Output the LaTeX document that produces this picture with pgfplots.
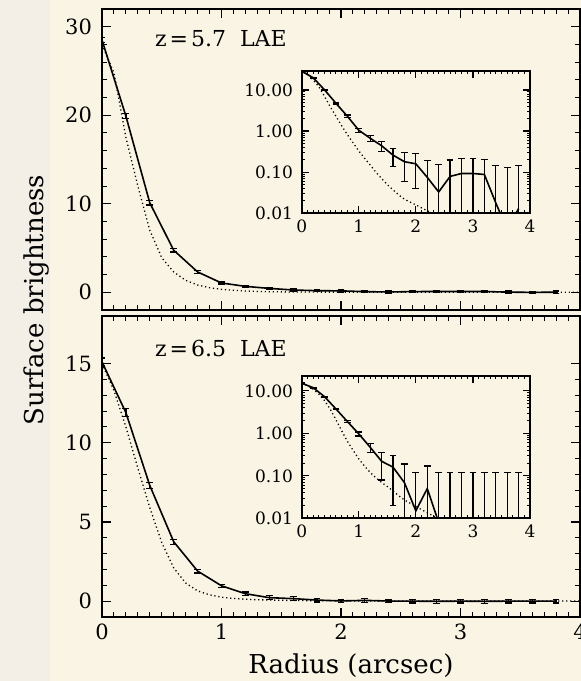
\documentclass[border=0pt]{standalone}
\usepackage{pgfplots}
\pgfplotsset{compat=1.18}
\usepackage{pgfplotstable}
\usepackage{fontspec}
\setmainfont{DejaVu Serif}
\definecolor{bg}{RGB}{249,244,227}
\definecolor{bgl}{RGB}{243,239,231}

% z=5.7 : observed profile (linear panel)
\pgfplotstableread{
x y e
0.0 28.5 0.30
0.2 19.9 0.30
0.4 10.1 0.25
0.6 4.75 0.20
0.8 2.30 0.15
1.0 1.05 0.12
1.2 0.67 0.12
1.4 0.44 0.12
1.6 0.26 0.12
1.8 0.18 0.12
2.0 0.16 0.12
2.2 0.075 0.12
2.4 0.033 0.12
2.6 0.079 0.12
2.8 0.093 0.12
3.0 0.093 0.12
3.2 0.088 0.12
3.4 0.018 0.13
3.6 -0.010 0.125
3.8 0.013 0.13
}\topmain
% z=5.7 : observed profile (log inset)
\pgfplotstableread{
x y ep em
0.0 28.5 0.30 0.30
0.2 19.9 0.30 0.30
0.4 10.1 0.25 0.25
0.6 4.75 0.20 0.20
0.8 2.30 0.15 0.15
1.0 1.05 0.12 0.12
1.2 0.67 0.12 0.12
1.4 0.44 0.12 0.12
1.6 0.26 0.12 0.12
1.8 0.18 0.12 0.12
2.0 0.16 0.12 0.12
2.2 0.075 0.12 0.072
2.4 0.033 0.12 0.030
2.6 0.079 0.12 0.076
2.8 0.093 0.12 0.090
3.0 0.093 0.12 0.090
3.2 0.088 0.12 0.085
3.4 0.018 0.13 0.015
3.6 0.004 0.125 0.001
3.8 0.013 0.13 0.010
}\topins
% z=5.7 : PSF model
\pgfplotstableread{
x y
0.0 28.0
0.1 24.8
0.2 17.5
0.3 12.0
0.4 7.0
0.5 3.9
0.6 2.3
0.7 1.35
0.8 0.82
0.9 0.52
1.0 0.33
1.1 0.22
1.2 0.15
1.3 0.10
1.4 0.07
1.5 0.05
1.6 0.037
1.7 0.028
1.8 0.022
2.0 0.016
2.2 0.0115
2.4 0.0088
2.6 0.0072
3.0 0.0055
3.5 0.0042
4.0 0.0035
}\toppsf

% z=6.5 : observed profile (linear panel)
\pgfplotstableread{
x y e
0.0 15.1 0.25
0.2 11.9 0.25
0.4 7.3 0.20
0.6 3.75 0.15
0.8 1.90 0.12
1.0 0.97 0.10
1.2 0.47 0.11
1.4 0.22 0.14
1.6 0.16 0.14
1.8 0.069 0.12
2.0 0.015 0.105
2.2 0.05 0.12
2.4 0.008 0.112
2.6 0.0 0.12
2.8 -0.01 0.12
3.0 0.0 0.12
3.2 -0.01 0.12
3.4 0.0 0.12
3.6 0.0 0.12
3.8 0.0 0.12
}\botmain
% z=6.5 : observed profile (log inset)
\pgfplotstableread{
x y ep em
0.0 15.1 0.25 0.25
0.2 11.9 0.25 0.25
0.4 7.3 0.20 0.20
0.6 3.75 0.15 0.15
0.8 1.90 0.12 0.12
1.0 0.97 0.10 0.10
1.2 0.47 0.11 0.11
1.4 0.22 0.14 0.14
1.6 0.16 0.14 0.14
1.8 0.069 0.12 0.066
2.0 0.015 0.105 0.012
2.2 0.05 0.12 0.047
2.4 0.008 0.112 0.005
2.6 0.003 0.117 0.002
2.8 0.003 0.117 0.002
3.0 0.003 0.117 0.002
3.2 0.003 0.117 0.002
3.4 0.003 0.117 0.002
3.6 0.003 0.117 0.002
3.8 0.003 0.117 0.002
}\botins
% z=6.5 : PSF model
\pgfplotstableread{
x y
0.0 15.0
0.1 13.3
0.2 11.0
0.3 8.4
0.4 5.9
0.5 3.7
0.6 2.1
0.7 1.15
0.8 0.65
0.9 0.40
1.0 0.25
1.1 0.17
1.2 0.12
1.3 0.09
1.4 0.07
1.5 0.056
1.6 0.044
1.7 0.034
1.8 0.027
2.0 0.019
2.2 0.0135
2.4 0.0097
2.6 0.0078
3.0 0.006
3.5 0.0045
4.0 0.0037
}\botpsf

\begin{document}
\begin{tikzpicture}
\useasboundingbox (0,0) rectangle (290.5pt,340.5pt);
\fill[bg] (0,0) rectangle (290.5pt,340.5pt);
\fill[bgl] (0,0) rectangle (25pt,340.5pt);

% ---------- top panel ----------
\begin{axis}[scale only axis, width=239pt, height=150.5pt,
    at={(51pt,185.5pt)}, anchor=south west,
    xmin=0, xmax=4, xtick={0,1,2,3,4}, minor x tick num=9, xticklabels={},
    ymin=-2, ymax=32, ytick={0,10,20,30}, minor y tick num=4,
    tick align=inside, major tick length=4.5pt, minor tick length=2.3pt,
    axis line style={line width=0.9pt},
    major tick style={line width=0.6pt, black},
    minor tick style={line width=0.5pt, black},
    ticklabel style={font=\fontsize{10.5}{12}\selectfont},
    yticklabel style={xshift=-1.5pt},
    /pgf/number format/assume math mode=true]
\addplot[black, line width=0.65pt, dash pattern=on 0.6pt off 1.4pt] table[x=x,y=y] {\toppsf};
\addplot[black, line width=0.8pt, error bars/y dir=both, error bars/y explicit,
    error bars/error bar style={line width=0.6pt},
    error bars/error mark options={rotate=90, line width=0.6pt, mark size=1.7pt}]
    table[x=x,y=y,y error=e] {\topmain};
\end{axis}
\begin{axis}[ymode=log, scale only axis, width=114.15pt, height=71pt,
    at={(150.85pt,233.85pt)}, anchor=south west,
    xmin=0, xmax=4, ymin=0.01, ymax=28.5,
    xtick={0,1,2,3,4}, minor x tick num=9,
    ytick={0.01,0.1,1,10}, yticklabels={0.01,0.10,1.00,10.00},
    tick align=inside, major tick length=3.5pt, minor tick length=1.6pt,
    axis line style={line width=0.9pt},
    major tick style={line width=0.6pt, black},
    minor tick style={line width=0.45pt, black},
    ticklabel style={font=\fontsize{8.5}{10}\selectfont},
    yticklabel style={xshift=-0.8pt},
    /pgf/number format/assume math mode=true]
\addplot[black, line width=0.65pt, dash pattern=on 0.6pt off 1.4pt] table[x=x,y=y] {\toppsf};
\addplot[black, line width=0.8pt, error bars/y dir=both, error bars/y explicit,
    error bars/error bar style={line width=0.6pt},
    error bars/error mark options={rotate=90, line width=0.6pt, mark size=1.7pt}]
    table[x=x,y=y,y error plus=ep,y error minus=em] {\topins};
\end{axis}
\node[anchor=base west, font=\fontsize{11}{13}\selectfont] at (74pt,317pt) {z\kern1.5pt=\kern1.5pt5.7\kern7pt LAE};

% ---------- bottom panel ----------
\begin{axis}[scale only axis, width=239pt, height=150.5pt,
    at={(51pt,32pt)}, anchor=south west,
    xmin=0, xmax=4, xtick={0,1,2,3,4}, minor x tick num=9,
    ymin=-1, ymax=18, ytick={0,5,10,15}, minor y tick num=4,
    tick align=inside, major tick length=4.5pt, minor tick length=2.3pt,
    axis line style={line width=0.9pt},
    major tick style={line width=0.6pt, black},
    minor tick style={line width=0.5pt, black},
    ticklabel style={font=\fontsize{10.5}{12}\selectfont},
    yticklabel style={xshift=-1.5pt},
    /pgf/number format/assume math mode=true]
\addplot[black, line width=0.65pt, dash pattern=on 0.6pt off 1.4pt] table[x=x,y=y] {\botpsf};
\addplot[black, line width=0.8pt, error bars/y dir=both, error bars/y explicit,
    error bars/error bar style={line width=0.6pt},
    error bars/error mark options={rotate=90, line width=0.6pt, mark size=1.7pt}]
    table[x=x,y=y,y error=e] {\botmain};
\end{axis}
\begin{axis}[ymode=log, scale only axis, width=114.15pt, height=71pt,
    at={(150.85pt,81.35pt)}, anchor=south west,
    xmin=0, xmax=4, ymin=0.01, ymax=22,
    xtick={0,1,2,3,4}, minor x tick num=9,
    ytick={0.01,0.1,1,10}, yticklabels={0.01,0.10,1.00,10.00},
    tick align=inside, major tick length=3.5pt, minor tick length=1.6pt,
    axis line style={line width=0.9pt},
    major tick style={line width=0.6pt, black},
    minor tick style={line width=0.45pt, black},
    ticklabel style={font=\fontsize{8.5}{10}\selectfont},
    yticklabel style={xshift=-0.8pt},
    /pgf/number format/assume math mode=true]
\addplot[black, line width=0.65pt, dash pattern=on 0.6pt off 1.4pt] table[x=x,y=y] {\botpsf};
\addplot[black, line width=0.8pt, error bars/y dir=both, error bars/y explicit,
    error bars/error bar style={line width=0.6pt},
    error bars/error mark options={rotate=90, line width=0.6pt, mark size=1.7pt}]
    table[x=x,y=y,y error plus=ep,y error minus=em] {\botins};
\end{axis}
\node[anchor=base west, font=\fontsize{11}{13}\selectfont] at (74pt,162pt) {z\kern1.5pt=\kern1.5pt6.5\kern7pt LAE};

% ---------- axis titles ----------
\node[rotate=90, anchor=base, font=\fontsize{13}{15}\selectfont] at (21.7pt,190.5pt) {Surface brightness};
\node[anchor=base, font=\fontsize{13}{15}\selectfont] at (175.5pt,3.9pt) {Radius (arcsec)};
\end{tikzpicture}
\end{document}
